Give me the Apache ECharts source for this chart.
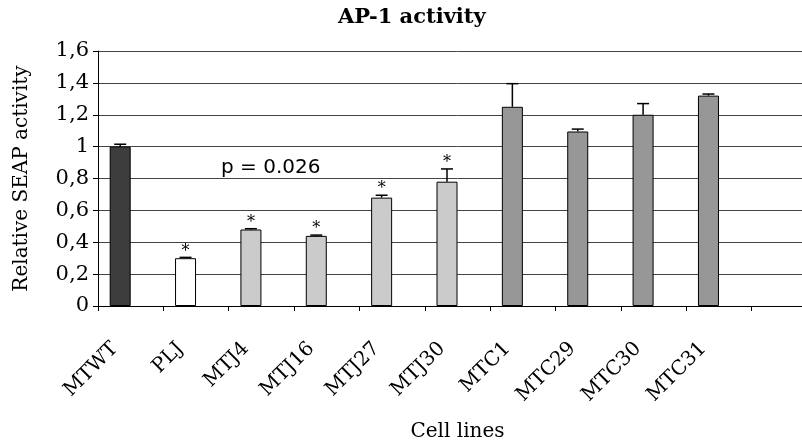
<!DOCTYPE html>
<html>
<head>
<meta charset="utf-8">
<script src="https://cdn.jsdelivr.net/npm/echarts@6/dist/echarts.min.js"></script>
<style>
html,body{margin:0;padding:0;background:#fff;overflow:hidden;width:802px;height:447px;}
#chart{width:822px;height:447px;}
</style>
</head>
<body>
<div id="chart"></div>
<script>
const categories = ['MTWT','PLJ','MTJ4','MTJ16','MTJ27','MTJ30','MTC1','MTC29','MTC30','MTC31',''];
const activity = [1.00, 0.30, 0.48, 0.44, 0.68, 0.78, 1.25, 1.095, 1.20, 1.32];
const errors = [0.015, 0.005, 0.005, 0.005, 0.015, 0.08, 0.145, 0.015, 0.07, 0.01];
const significant = [false, true, true, true, true, true, false, false, false, false];
const groups = ['WT','PLJ','MTJ','MTJ','MTJ','MTJ','MTC','MTC','MTC','MTC'];
const yTickLabels = ['0','0,2','0,4','0,6','0,8','1','1,2','1,4','1,6'];
const titleText = 'AP-1 activity';
const pValueText = 'p = 0.026';

const groupColors = {WT:'#3d3d3d', PLJ:'#ffffff', MTJ:'#cbcbcb', MTC:'#979797'};
const BAR_W = 21;
const serif = 'DejaVu Serif';

const chart = echarts.init(document.getElementById('chart'), null, {renderer:'canvas'});

const barData = activity.map((v,i)=>({
  value: v,
  itemStyle: {color: groupColors[groups[i]], borderColor:'#000', borderWidth:1}
}));
const errData = activity.map((v,i)=>[i, v, errors[i], significant[i] ? 1 : 0]);

chart.setOption({
  animation:false,
  title:{
    text:titleText, left:333, top:2,
    textStyle:{fontFamily:serif, fontWeight:'bold', fontSize:21, color:'#000'}
  },
  grid:{left:98, top:51, width:719, height:256.5, containLabel:false},
  xAxis:{
    type:'category', data:categories, boundaryGap:true,
    name:'Cell lines', nameLocation:'middle', nameGap:116,
    nameTextStyle:{fontFamily:serif, fontSize:20, color:'#000'},
    axisLine:{lineStyle:{color:'#000', width:1}},
    axisTick:{show:true, length:5, interval:0, lineStyle:{color:'#000'}},
    axisLabel:{rotate:45, interval:0, margin:24, padding:[0,22,0,0],
      fontFamily:serif, fontSize:20, color:'#000'},
    splitLine:{show:false}
  },
  yAxis:{
    type:'value', min:0, max:1.6, interval:0.2,
    name:'Relative SEAP activity', nameLocation:'middle', nameGap:66,
    nameTextStyle:{fontFamily:serif, fontSize:20, color:'#000'},
    axisLine:{show:true, lineStyle:{color:'#000', width:1}},
    axisTick:{show:true, length:5, lineStyle:{color:'#000'}},
    axisLabel:{margin:9, fontFamily:serif, fontSize:21, color:'#000',
      formatter:(v,idx)=>yTickLabels[idx]},
    splitLine:{show:true, lineStyle:{color:'#444', width:1}}
  },
  graphic:[{
    type:'text', left:221, top:158,
    style:{text:pValueText, font:'20px "DejaVu Sans"', fill:'#000'}
  }],
  series:[
    {type:'bar', data:barData, barWidth:BAR_W, barGap:'0%', z:2},
    {type:'bar', data:activity.map(()=>null), barWidth:BAR_W, silent:true},
    {type:'custom', data:errData, z:3, encode:{x:0, y:1},
      renderItem:(params, api)=>{
        const i = api.value(0), v = api.value(1), e = api.value(2), s = api.value(3);
        const base = api.coord([i, v]);
        const top = api.coord([i, v+e]);
        const x = base[0] - BAR_W/2;
        const children = [
          {type:'line', shape:{x1:x, y1:base[1], x2:x, y2:top[1]}, style:{stroke:'#000', lineWidth:1.5}},
          {type:'line', shape:{x1:x-6, y1:top[1], x2:x+6, y2:top[1]}, style:{stroke:'#000', lineWidth:1.5}}
        ];
        if (s) {
          children.push({type:'text', x:x, y:top[1]-6,
            style:{text:'*', font:'16px "DejaVu Serif"', fill:'#000', align:'center', verticalAlign:'middle'}});
        }
        return {type:'group', children};
      }
    }
  ]
});
</script>
</body>
</html>
